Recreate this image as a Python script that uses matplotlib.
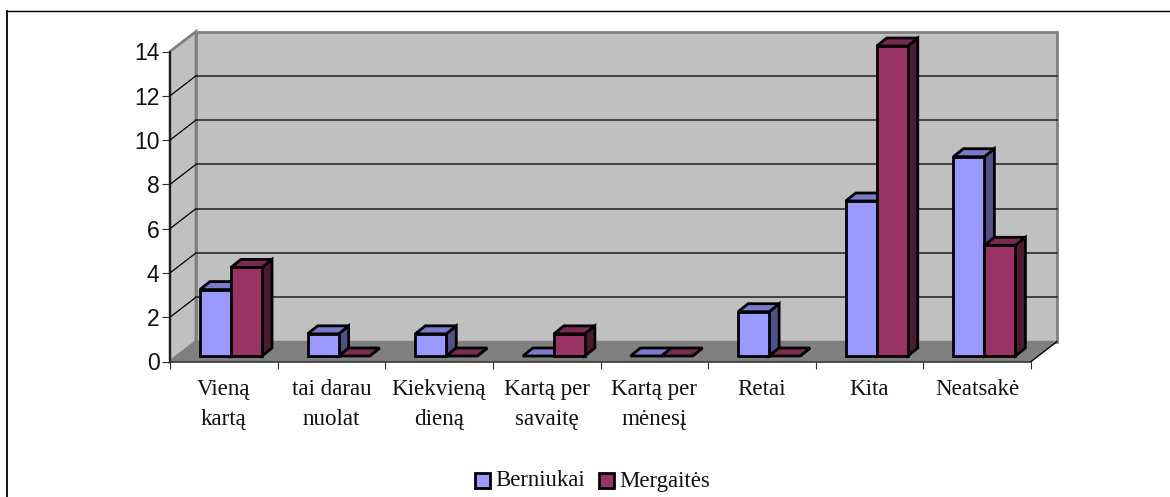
import matplotlib
matplotlib.use('Agg')
import matplotlib.pyplot as plt
from matplotlib.patches import Polygon, Rectangle

#Data
categories = ['Vieną\nkartą', 'tai darau\nnuolat', 'Kiekvieną\ndieną', 'Kartą per\nsavaitę',
              'Kartą per\nmėnesį', 'Retai', 'Kita', 'Neatsakė']
boys = [3, 1, 1, 0, 0, 2, 7, 9]
girls = [4, 0, 0, 1, 0, 0, 14, 5]
y_ticks = [0, 2, 4, 6, 8, 10, 12, 14]
series_names = ['Berniukai', 'Mergaitės']

W, H = 1170, 497
fig = plt.figure(figsize=(W / 100, H / 100), dpi=100)

#Front plane of the box, in pixels
left, right, bottom, top = 170, 1031, 361.5, 51.5
ax = fig.add_axes([left / W, 1 - bottom / H, (right - left) / W, (bottom - top) / H])
ax.set_xlim(0, 8)
ax.set_ylim(0, 14)
ax.patch.set_alpha(0)
for s in ax.spines.values():
    s.set_visible(False)

px = 8 / (right - left)
py = 14 / (bottom - top)

#Depth of the box
dx, dy = 26 * px, 20 * py
wall = '#C0C0C0'
wall_edge = '#808080'


def poly(pts, fc, ec, lw, z):
    ax.add_patch(Polygon(pts, closed=True, facecolor=fc, edgecolor=ec, linewidth=lw,
                         zorder=z, clip_on=False, joinstyle='miter'))


#Back wall, side wall, floor
poly([(dx, dy), (8 + dx, dy), (8 + dx, 14 + dy), (dx, 14 + dy)], wall, wall_edge, 2, 1)
poly([(0, 0), (dx, dy), (dx, 14 + dy), (0, 14)], wall, wall_edge, 2, 1)
poly([(0, 0), (8, 0), (8 + dx, dy), (dx, dy)], wall_edge, wall_edge, 1, 1.5)

#Gridlines
for t in y_ticks[1:-1]:
    ax.plot([0, dx], [t, t + dy], color='black', lw=0.9, zorder=2, clip_on=False)
    ax.plot([dx, 8 + dx], [t + dy, t + dy], color='#202020', lw=1.1, zorder=2, clip_on=False)

#Axis lines
ax.plot([0, 0], [0, 14], color='black', lw=1.1, zorder=2, clip_on=False)
ax.plot([0, 8], [0, 0], color='#303030', lw=1.1, zorder=2, clip_on=False)
ax.plot([8, 8 + dx], [0, dy], color='black', lw=0.9, zorder=2, clip_on=False)

colors = [('#9999FF', '#7A7ACC', '#51518A'), ('#993366', '#7A2952', '#4D1A33')]
bar_w = 31 * px
bar_dx, bar_dy = 10 * px, 8 * py
base = 5.5 * py
start = 30 * px


def bar3d(x, v, cols, z):
    front, topc, side = cols
    y0, y1 = base, base + v
    poly([(x + bar_w, y0), (x + bar_w + bar_dx, y0 + bar_dy), (x + bar_w + bar_dx, y1 + bar_dy),
          (x + bar_w, y1)], side, 'black', 2, z)
    poly([(x, y1), (x + bar_w, y1), (x + bar_w + bar_dx, y1 + bar_dy), (x + bar_dx, y1 + bar_dy)],
         topc, 'black', 2, z)
    if v > 0:
        poly([(x, y0), (x + bar_w, y0), (x + bar_w, y1), (x, y1)], front, 'black', 2, z)


for i in range(len(categories)):
    bar3d(i + start, boys[i], colors[0], 3 + i)
    bar3d(i + start + bar_w, girls[i], colors[1], 3.5 + i)

#Ticks and labels
ax.set_xticks(range(9))
ax.set_xticklabels([])
ax.set_yticks(y_ticks)
ax.tick_params(axis='x', direction='out', length=5, width=0.8, color='#303030')
ax.tick_params(axis='y', direction='out', length=6, width=0.8, color='#303030', pad=1.5)
for lab in ax.get_yticklabels():
    lab.set_fontfamily('Liberation Sans')
    lab.set_fontsize(16.5)
    lab.set_color('#111111')

for i, c in enumerate(categories):
    ax.text(i + 0.5, -17.5 * py, c, ha='center', va='top', family='Liberation Serif',
            fontsize=16.6, color='#111111', linespacing=1.56, clip_on=False)

#Legend
fig.add_artist(Rectangle((475 / W, 1 - 487.5 / H), 14.5 / W, 14.5 / H, transform=fig.transFigure,
                         facecolor=colors[0][0], edgecolor='black', linewidth=2))
fig.text(495 / W, 1 - 481 / H, series_names[0], family='Liberation Serif', fontsize=16.4,
         va='center', ha='left', color='#111111')
fig.add_artist(Rectangle((599 / W, 1 - 487.5 / H), 14.5 / W, 14.5 / H, transform=fig.transFigure,
                         facecolor=colors[1][0], edgecolor='black', linewidth=2))
fig.text(619 / W, 1 - 481 / H, series_names[1], family='Liberation Serif', fontsize=16.4,
         va='center', ha='left', color='#111111')

#Outer frame
fig.add_artist(plt.Line2D([6.5 / W, 6.5 / W], [0, 1 - 10.5 / H], color='black', lw=1.3))
fig.add_artist(plt.Line2D([6.5 / W, 1 - 0.5 / W], [1 - 10.5 / H, 1 - 10.5 / H], color='black', lw=1))

fig.savefig('out.png', dpi=100)
